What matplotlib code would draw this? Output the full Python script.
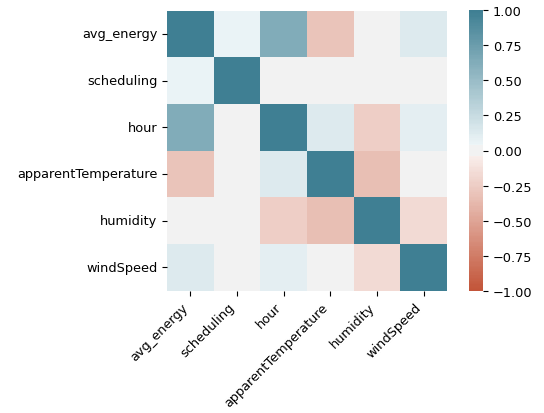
import matplotlib
matplotlib.use("Agg")
import matplotlib.pyplot as plt
import seaborn as sns
import numpy as np
import pandas as pd
import colorsys
from matplotlib.colors import LinearSegmentedColormap, ListedColormap
from seaborn.external import husl

labels = ["avg_energy", "scheduling", "hour", "apparentTemperature", "humidity", "windSpeed"]
row_avg_energy = [1.00, 0.05, 0.63, -0.30, 0.00, 0.13]
row_scheduling = [0.05, 1.00, 0.00, 0.00, 0.00, 0.00]
row_hour = [0.63, 0.00, 1.00, 0.13, -0.25, 0.10]
row_apparentTemperature = [-0.30, 0.00, 0.13, 1.00, -0.33, 0.00]
row_humidity = [0.00, 0.00, -0.25, -0.33, 1.00, -0.17]
row_windSpeed = [0.13, 0.00, 0.10, 0.00, -0.17, 1.00]

corr = pd.DataFrame([row_avg_energy, row_scheduling, row_hour,
                     row_apparentTemperature, row_humidity, row_windSpeed],
                    index=labels, columns=labels)


def blend(colors, n):
    cm = LinearSegmentedColormap.from_list("b", colors)
    return [tuple(c[:3]) for c in cm(np.linspace(0, 1, n))]


def light_pal(h, s, l, n, reverse=False):
    rgb = np.clip(husl.husl_to_rgb(h, s, l), 0, 1)
    hh, ll, ss = colorsys.rgb_to_hls(*rgb)
    light = colorsys.hls_to_rgb(hh, 0.95, ss)
    cols = [tuple(rgb), light] if reverse else [light, tuple(rgb)]
    return blend(cols, n)


sep = 10
n_half = int(128 - sep // 2)
neg = light_pal(20, 75, 50, n_half, reverse=True)
pos = light_pal(220, 75, 50, n_half)
mid = [(.95, .95, .95)] * sep
cmap = ListedColormap(blend(neg + mid + pos, 200))

plt.rcParams["font.size"] = 9.3
fig = plt.figure(figsize=(5.44, 4.14), dpi=100)
W, H = 544, 414
ax = fig.add_axes([167 / W, (H - 292) / H, 280 / W, 281 / H])
cax = fig.add_axes([469 / W, (H - 292) / H, 14 / W, 281 / H])

sns.heatmap(corr, vmin=-1, vmax=1, center=0, cmap=cmap, square=True,
            ax=ax, cbar_ax=cax)
for s in cax.spines.values():
    s.set_visible(False)
ax.set_xticklabels(ax.get_xticklabels(), rotation=45, ha="right")
ax.set_yticklabels(ax.get_yticklabels(), rotation=0)

fig.savefig("out.png", dpi=100)
